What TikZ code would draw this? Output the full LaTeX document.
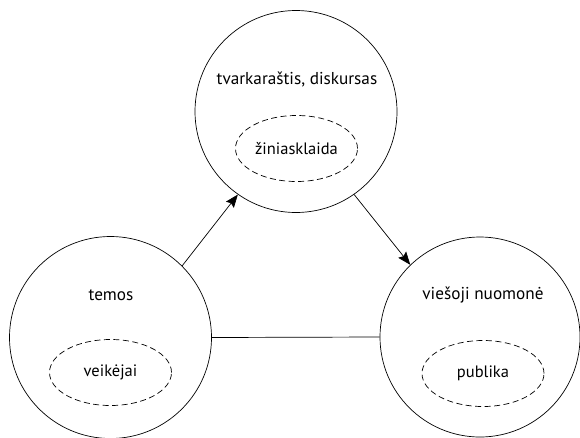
\documentclass[tikz,border=0pt]{standalone}
\usepackage{fontspec}
\setmainfont{PT Sans}
\usetikzlibrary{arrows.meta,shapes.geometric}
\begin{document}
\begin{tikzpicture}[x=1pt,y=-1pt,
  big/.style={draw,circle,line width=0.7pt,minimum size=202pt,inner sep=0pt},
  grp/.style={draw,ellipse,dashed,dash pattern=on 6pt off 3.5pt,line width=0.7pt,minimum width=122pt,minimum height=66pt,inner sep=0pt,font=\fontsize{16.5}{19}\selectfont},
  lbl/.style={font=\fontsize{17.2}{20}\selectfont,inner sep=0pt},
  conn/.style={line width=0.7pt},
  arr/.style={conn,-{Stealth[length=13pt,width=10pt,inset=2pt]}}]
\useasboundingbox (0,0) rectangle (580,437);
\node[big] (T) at (296,111.5) {};
\node[big] (L) at (110.5,337.5) {};
\node[big,minimum size=200pt] (R) at (480,337) {};
\node[lbl] (tl) at (297,79) {tvarkaraštis, diskursas};
\node[lbl] (ll) at (111,295) {temos};
\node[lbl] (rl) at (483,295) {viešoji nuomonė};
\node[grp] (te) at (296.5,148.5) {žiniasklaida};
\node[grp] (le) at (110.5,372.5) {veikėjai};
\node[grp] (re) at (483,373.5) {publika};
\draw[arr] (L.45) -- (T.235);
\draw[arr] (T.305) -- (R.134);
\draw[conn] (L.0) -- (R.180);
\end{tikzpicture}
\end{document}
